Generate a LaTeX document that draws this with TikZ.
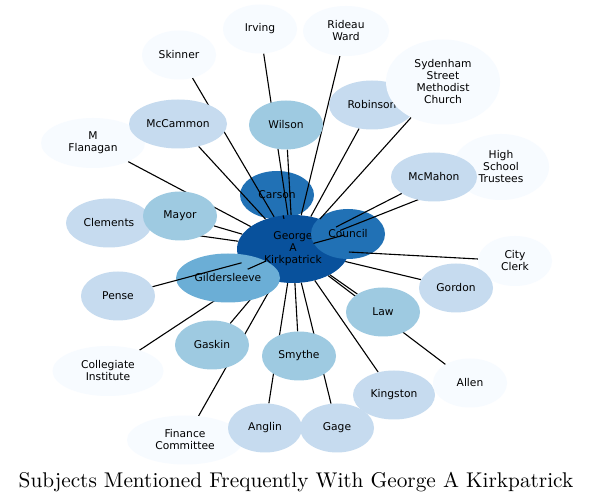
\documentclass[tikz,border=0pt]{standalone}
\usepackage{fontspec}
\newfontfamily\nodefont{DejaVu Sans}
\newfontfamily\titlefont{lmroman10-regular}[Extension=.otf]
\usetikzlibrary{shapes.geometric}
\definecolor{cA}{HTML}{08519C}
\definecolor{cB}{HTML}{2171B5}
\definecolor{cC}{HTML}{6BAED6}
\definecolor{cD}{HTML}{9ECAE1}
\definecolor{cE}{HTML}{C6DBEF}
\definecolor{cF}{HTML}{F7FBFF}
\tikzset{
  ent/.style={ellipse, inner sep=0pt, align=center, text=black,
    font=\nodefont\fontsize{10.7}{12}\selectfont},
  link/.style={draw=black, line width=1.1pt},
}
\begin{document}
\begin{tikzpicture}[x=1pt,y=-1pt]
\useasboundingbox[fill=white] (0,0) rectangle (592,502);
% inner nodes
\node[ent, fill=cB, minimum width=74, minimum height=48] (carson) at (277,195) {Carson};
\node[ent, fill=cA, minimum width=112, minimum height=68] (george) at (293,249) {George\\A\\Kirkpatrick};
\node[ent, fill=cB, minimum width=74, minimum height=50] (council) at (348,234) {Council};
% coordinates of outer nodes (drawn later)
\node[ent, minimum width=74, minimum height=49] (gaskin) at (212,345) {};
\node[ent, minimum width=116, minimum height=49] (finance) at (185,440) {};
\node[ent, minimum width=111, minimum height=50] (collegiate) at (108,371) {};
% edges hidden under Gildersleeve
\draw[link] (george) -- (collegiate);
\draw[link] (george) -- (gaskin);
\draw[link] (george) -- (finance);
\node[ent, fill=cC, minimum width=104, minimum height=49] (gilder) at (228,278) {Gildersleeve};
% outer node shapes for clipping
\node[ent, minimum width=74, minimum height=49] (mayor) at (180,216) {};
\node[ent, minimum width=74, minimum height=49] (wilson) at (286,125) {};
\node[ent, minimum width=74, minimum height=49] (law) at (383,312) {};
\node[ent, minimum width=74, minimum height=49] (smythe) at (299,356) {};
\node[ent, minimum width=98, minimum height=49] (mccammon) at (178,124) {};
\node[ent, minimum width=86, minimum height=49] (robinson) at (372,105) {};
\node[ent, minimum width=86, minimum height=49] (mcmahon) at (434,177) {};
\node[ent, minimum width=86, minimum height=49] (clements) at (109,223) {};
\node[ent, minimum width=74, minimum height=49] (pense) at (118,296) {};
\node[ent, minimum width=74, minimum height=49] (gordon) at (456,288) {};
\node[ent, minimum width=82, minimum height=49] (kingston) at (394,395) {};
\node[ent, minimum width=74, minimum height=49] (anglin) at (265,428) {};
\node[ent, minimum width=74, minimum height=49] (gage) at (337,428) {};
\node[ent, minimum width=74, minimum height=49] (skinner) at (179,55) {};
\node[ent, minimum width=74, minimum height=49] (irving) at (260,29) {};
\node[ent, minimum width=86, minimum height=50] (rideau) at (346,31) {};
\node[ent, minimum width=114, minimum height=85] (sydenham) at (443,82) {};
\node[ent, minimum width=96, minimum height=66] (hst) at (501,167) {};
\node[ent, minimum width=74, minimum height=50] (cityclerk) at (515,261) {};
\node[ent, minimum width=74, minimum height=49] (allen) at (470,383) {};
\node[ent, minimum width=104, minimum height=50] (flanagan) at (93,143) {};
% remaining edges
\foreach \t in {carson,council,gilder,mayor,wilson,law,smythe,mccammon,robinson,mcmahon,clements,pense,gordon,kingston,anglin,gage,skinner,irving,rideau,sydenham,hst,cityclerk,allen,flanagan}
  \draw[link] (george) -- (\t);
% outer nodes drawn on top
\node[ent, fill=cF, minimum width=104, minimum height=50] at (flanagan) {M\\Flanagan};
\node[ent, fill=cE, minimum width=98, minimum height=49] at (mccammon) {McCammon};
\node[ent, fill=cE, minimum width=86, minimum height=49] at (clements) {Clements};
\node[ent, fill=cD, minimum width=74, minimum height=49] at (mayor) {Mayor};
\node[ent, fill=cD, minimum width=74, minimum height=49] at (wilson) {Wilson};
\node[ent, fill=cD, minimum width=74, minimum height=49] at (law) {Law};
\node[ent, fill=cD, minimum width=74, minimum height=49] at (gaskin) {Gaskin};
\node[ent, fill=cD, minimum width=74, minimum height=49] at (smythe) {Smythe};
\node[ent, fill=cE, minimum width=86, minimum height=49] at (robinson) {Robinson};
\node[ent, fill=cF, minimum width=114, minimum height=85] at (sydenham) {Sydenham\\Street\\Methodist\\Church};
\node[ent, fill=cF, minimum width=96, minimum height=66] at (hst) {High\\School\\Trustees};
\node[ent, fill=cE, minimum width=86, minimum height=49] at (mcmahon) {McMahon};
\node[ent, fill=cE, minimum width=74, minimum height=49] at (pense) {Pense};
\node[ent, fill=cF, minimum width=74, minimum height=50] at (cityclerk) {City\\Clerk};
\node[ent, fill=cE, minimum width=74, minimum height=49] at (gordon) {Gordon};
\node[ent, fill=cE, minimum width=82, minimum height=49] at (kingston) {Kingston};
\node[ent, fill=cF, minimum width=74, minimum height=49] at (allen) {Allen};
\node[ent, fill=cF, minimum width=116, minimum height=49] at (finance) {Finance\\Committee};
\node[ent, fill=cE, minimum width=74, minimum height=49] at (anglin) {Anglin};
\node[ent, fill=cE, minimum width=74, minimum height=49] at (gage) {Gage};
\node[ent, fill=cF, minimum width=111, minimum height=50] at (collegiate) {Collegiate\\Institute};
\node[ent, fill=cF, minimum width=74, minimum height=49] at (skinner) {Skinner};
\node[ent, fill=cF, minimum width=74, minimum height=49] at (irving) {Irving};
\node[ent, fill=cF, minimum width=86, minimum height=50] at (rideau) {Rideau\\Ward};
% title
\node[anchor=base, font=\titlefont\fontsize{21.3}{25}\selectfont, inner sep=0pt] (title) at (296,487) {Subjects Mentioned Frequently With George A Kirkpatrick};
\end{tikzpicture}
\end{document}
